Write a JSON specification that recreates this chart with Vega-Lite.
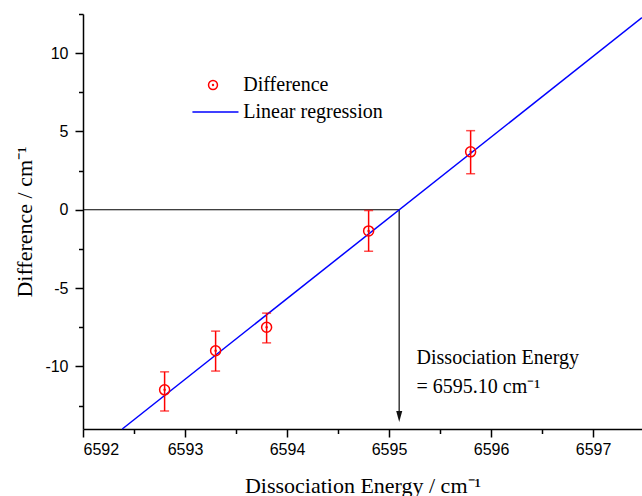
{
  "$schema": "https://vega.github.io/schema/vega-lite/v6.json",
  "autosize": "none",
  "padding": {"left": 83, "top": 14, "right": 0, "bottom": 67},
  "width": 559,
  "height": 415,
  "background": "white",
  "config": {
    "view": {"stroke": null},
    "axis": {
      "grid": false,
      "domainColor": "black",
      "domainWidth": 1.5,
      "tickColor": "black",
      "tickWidth": 1.5,
      "labelFont": "Liberation Sans",
      "labelFontSize": 16,
      "labelColor": "black",
      "titleFont": "Liberation Serif",
      "titleFontSize": 22,
      "titleFontWeight": "normal",
      "titleColor": "black"
    }
  },
  "datasets": {
    "points": [
      {"x": 6592.8, "y": -11.5, "lo": -12.85, "hi": -10.35, "series": "Difference"},
      {"x": 6593.3, "y": -9.0, "lo": -10.3, "hi": -7.75, "series": "Difference"},
      {"x": 6593.8, "y": -7.5, "lo": -8.5, "hi": -6.6, "series": "Difference"},
      {"x": 6594.8, "y": -1.35, "lo": -2.65, "hi": -0.05, "series": "Difference"},
      {"x": 6595.8, "y": 3.7, "lo": 2.3, "hi": 5.05, "series": "Difference"}
    ],
    "fit": [
      {"x": 6592.385, "y": -14, "series": "Linear regression"},
      {"x": 6597.48, "y": 12.27, "series": "Linear regression"}
    ],
    "one": [{}]
  },
  "layer": [
    {
      "data": {"name": "one"},
      "mark": {"type": "rule", "color": "black", "strokeWidth": 1.2},
      "encoding": {
        "x": {"datum": 6592, "type": "quantitative", "scale": {"domain": [6592, 6597.48], "nice": false, "zero": false},
          "axis": {
            "title": "Dissociation Energy / cm⁻¹",
            "values": [6592, 6592.5, 6593, 6593.5, 6594, 6594.5, 6595, 6595.5, 6596, 6596.5, 6597],
            "labelExpr": "datum.value % 1 === 0 ? '' + datum.value : ''",
            "tickSize": {"condition": {"test": "datum.value % 1 !== 0", "value": 4.5}, "value": 8},
            "labelPadding": 4,
            "titlePadding": 18
          }
        },
        "x2": {"datum": 6595.1},
        "y": {"datum": 0, "type": "quantitative", "scale": {"domain": [-14, 12.5], "nice": false, "zero": false},
          "axis": {
            "title": "Difference / cm⁻¹",
            "values": [-12.5, -10, -7.5, -5, -2.5, 0, 2.5, 5, 7.5, 10, 12.5],
            "labelExpr": "datum.value % 5 === 0 ? '' + datum.value : ''",
            "tickSize": {"condition": {"test": "datum.value % 5 !== 0", "value": 4.5}, "value": 8},
            "labelPadding": 7,
            "titlePadding": 8
          }
        }
      }
    },
    {
      "data": {"name": "one"},
      "mark": {"type": "rule", "color": "#444444", "strokeWidth": 1.6},
      "encoding": {
        "x": {"datum": 6595.1, "type": "quantitative"},
        "y": {"datum": 0, "type": "quantitative"},
        "y2": {"datum": -13.0}
      }
    },
    {
      "data": {"name": "one"},
      "mark": {"type": "point", "shape": "M-0.55,-1L0.55,-1L0,1Z", "filled": true, "color": "#111111", "size": 121, "opacity": 1},
      "encoding": {
        "x": {"datum": 6595.1, "type": "quantitative"},
        "y": {"datum": -13.2, "type": "quantitative"}
      }
    },
    {
      "data": {"name": "fit"},
      "mark": {"type": "line", "strokeWidth": 1.5},
      "encoding": {
        "x": {"field": "x", "type": "quantitative"},
        "y": {"field": "y", "type": "quantitative"},
        "color": {"field": "series", "type": "nominal"}
      }
    },
    {
      "data": {"name": "points"},
      "mark": {"type": "rule", "color": "#ff0000", "strokeWidth": 1.5},
      "encoding": {
        "x": {"field": "x", "type": "quantitative"},
        "y": {"field": "lo", "type": "quantitative"},
        "y2": {"field": "hi"}
      }
    },
    {
      "data": {"name": "points"},
      "mark": {"type": "tick", "orient": "horizontal", "color": "#ff0000", "size": 9, "thickness": 1.5},
      "encoding": {
        "x": {"field": "x", "type": "quantitative"},
        "y": {"field": "hi", "type": "quantitative"}
      }
    },
    {
      "data": {"name": "points"},
      "mark": {"type": "tick", "orient": "horizontal", "color": "#ff0000", "size": 9, "thickness": 1.5},
      "encoding": {
        "x": {"field": "x", "type": "quantitative"},
        "y": {"field": "lo", "type": "quantitative"}
      }
    },
    {
      "data": {"name": "points"},
      "mark": {"type": "point", "filled": false, "size": 100, "strokeWidth": 1.5, "opacity": 1},
      "encoding": {
        "x": {"field": "x", "type": "quantitative"},
        "y": {"field": "y", "type": "quantitative"},
        "color": {
          "field": "series", "type": "nominal",
          "scale": {"domain": ["Difference", "Linear regression"], "range": ["#ff0000", "#0000ff"]},
          "legend": {
            "title": null,
            "orient": "none",
            "legendX": 120,
            "legendY": 61,
            "padding": 0,
            "labelFont": "Liberation Serif",
            "labelFontSize": 20,
            "labelColor": "black",
            "labelOffset": 20.3,
            "rowPadding": 7,
            "symbolSize": 80,
            "symbolStrokeWidth": 1.5
          }
        },
        "shape": {
          "field": "series", "type": "nominal",
          "scale": {
            "domain": ["Difference", "Linear regression"],
            "range": [
              "M1,0A1,1,0,1,1,-1,0A1,1,0,1,1,1,0ZM0.1,0A0.1,0.1,0,1,1,-0.1,0A0.1,0.1,0,1,1,0.1,0Z",
              "M-4.6,0L5.7,0"
            ]
          },
          "legend": {
            "title": null,
            "orient": "none",
            "legendX": 120,
            "legendY": 61,
            "padding": 0,
            "labelFont": "Liberation Serif",
            "labelFontSize": 20,
            "labelColor": "black",
            "labelOffset": 20.3,
            "rowPadding": 7,
            "symbolSize": 80,
            "symbolStrokeWidth": 1.5
          }
        }
      }
    },
    {
      "data": {"name": "one"},
      "mark": {
        "type": "text",
        "text": ["Dissociation Energy", "= 6595.10 cm⁻¹"],
        "align": "left",
        "baseline": "alphabetic",
        "font": "Liberation Serif",
        "fontSize": 20,
        "lineHeight": 29,
        "color": "black"
      },
      "encoding": {
        "x": {"datum": 6595.27, "type": "quantitative"},
        "y": {"datum": -9.85, "type": "quantitative"}
      }
    }
  ]
}
